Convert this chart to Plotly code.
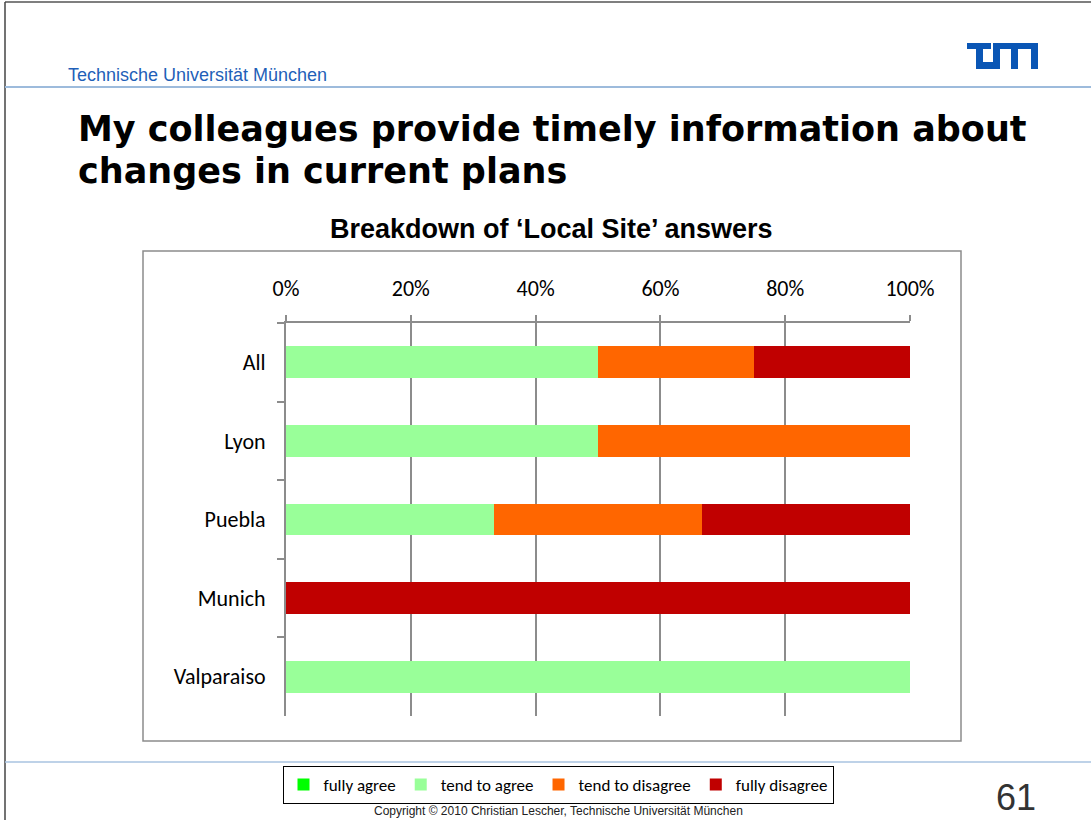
import plotly.graph_objects as go

W, H = 1091, 820

# data (shares of answers per site)
sites = ["All", "Lyon", "Puebla", "Munich", "Valparaiso"]
fully_agree = [0, 0, 0, 0, 0]
tend_to_agree = [0.50, 0.50, 0.333, 0.0, 1.0]
tend_to_disagree = [0.25, 0.50, 0.334, 0.0, 0.0]
fully_disagree = [0.25, 0.0, 0.333, 1.0, 0.0]

series = [
    ("fully agree", fully_agree, "#00FF00"),
    ("tend to agree", tend_to_agree, "#99FF99"),
    ("tend to disagree", tend_to_disagree, "#FF6600"),
    ("fully disagree", fully_disagree, "#C00000"),
]


def px(x):
    return x / W


def py(y):
    return 1 - y / H


fig = go.Figure()
for name, vals, col in series:
    fig.add_trace(go.Bar(y=sites, x=vals, name=name, orientation="h",
                         marker=dict(color=col, line=dict(width=0))))

tick_font = dict(family="Carlito, Lato, sans-serif", size=22, color="#000000")
grey = "#8c8c8c"

fig.update_layout(
    width=W, height=H,
    barmode="stack", bargap=0.595,
    paper_bgcolor="white", plot_bgcolor="white",
    margin=dict(l=0, r=0, t=0, b=0),
    showlegend=True,
    legend=dict(orientation="h", x=px(558), xanchor="center", y=py(766), yanchor="top",
                bordercolor="#000000", borderwidth=1, bgcolor="white",
                font=dict(family="Carlito, Lato, sans-serif", size=17, color="#000"),
                traceorder="normal", itemwidth=30, tracegroupgap=0),
    xaxis=dict(domain=[px(286), px(910)], range=[0, 1], side="top",
               tickvals=[0, 0.2, 0.4, 0.6, 0.8, 1.0], tickformat=".0%",
               showgrid=True, gridcolor=grey, gridwidth=2,
               showline=True, linecolor=grey, linewidth=2,
               ticks="outside", ticklen=6, tickcolor=grey, tickwidth=2,
               ticklabelstandoff=10, tickfont=tick_font, zeroline=False,
               automargin=False, fixedrange=True),
    yaxis=dict(domain=[py(716), py(323)], categoryorder="array", categoryarray=sites,
               autorange="reversed", showgrid=False,
               showline=True, linecolor=grey, linewidth=2,
               ticks="outside", ticklen=7, tickcolor=grey, tickwidth=2,
               tickson="boundaries", ticklabelstandoff=14, tickfont=tick_font,
               automargin=False, fixedrange=True),
)

shapes = []
# page border (top / left)
shapes.append(dict(type="line", xref="paper", yref="paper", x0=px(5), x1=1, y0=py(2), y1=py(2),
                   line=dict(color="#7f7f7f", width=2)))
shapes.append(dict(type="line", xref="paper", yref="paper", x0=px(5), x1=px(5), y0=py(2), y1=0,
                   line=dict(color="#444444", width=1.5)))
# header and footer rules
shapes.append(dict(type="line", xref="paper", yref="paper", x0=px(5), x1=1, y0=py(87), y1=py(87),
                   line=dict(color="#9dbbdc", width=2)))
shapes.append(dict(type="line", xref="paper", yref="paper", x0=px(5), x1=1, y0=py(762), y1=py(762),
                   line=dict(color="#a8c3e0", width=1.5)))
# chart frame
shapes.append(dict(type="rect", xref="paper", yref="paper", x0=px(143), x1=px(961),
                   y0=py(741), y1=py(251), line=dict(color=grey, width=1.5), layer="below"))

# TUM logo blocks (pixel rectangles)
tum_blue = "#0a56b5"
logo = [
    (967, 43, 991, 49),    # T crossbar
    (976, 43, 983, 69),    # T stem / U left
    (976, 62, 1000, 69),   # U bottom
    (993, 43, 1000, 69),   # U right / M left
    (993, 43, 1038, 49),   # M top
    (1011, 43, 1018, 69),  # M middle leg
    (1031, 43, 1038, 69),  # M right leg
]
for x0, y0, x1, y1 in logo:
    shapes.append(dict(type="rect", xref="paper", yref="paper", x0=px(x0), x1=px(x1),
                       y0=py(y1), y1=py(y0), fillcolor=tum_blue, line=dict(width=0)))
fig.update_layout(shapes=shapes)

title_font = dict(family="DejaVu Sans, Liberation Sans, sans-serif", size=35, color="#000")
ann = [
    dict(text="Technische Universität München", x=px(66), y=py(75), xanchor="left", yanchor="middle",
         font=dict(family="Liberation Sans, Arial, sans-serif", size=18, color="#1f5fb8")),
    dict(text="<b>My colleagues provide timely information about</b>", x=px(76), y=py(129),
         xanchor="left", yanchor="middle", font=title_font),
    dict(text="<b>changes in current plans</b>", x=px(76), y=py(171),
         xanchor="left", yanchor="middle", font=title_font),
    dict(text="<b>Breakdown of ‘Local Site’ answers</b>", x=px(551), y=py(229),
         xanchor="center", yanchor="middle",
         font=dict(family="Liberation Sans, Arial, sans-serif", size=27, color="#000")),
    dict(text="61", x=px(1016), y=py(797), xanchor="center", yanchor="middle",
         font=dict(family="Liberation Sans, Arial, sans-serif", size=36, color="#333333")),
    dict(text="Copyright © 2010 Christian Lescher, Technische Universität München", x=px(558), y=py(811),
         xanchor="center", yanchor="middle",
         font=dict(family="Liberation Sans, Arial, sans-serif", size=12, color="#222")),
]
for a in ann:
    a.update(xref="paper", yref="paper", showarrow=False)
fig.update_layout(annotations=ann)

fig.write_html("out.html", config={"displayModeBar": False},
               post_script="document.body.style.margin='0';document.body.style.overflow='hidden';")
